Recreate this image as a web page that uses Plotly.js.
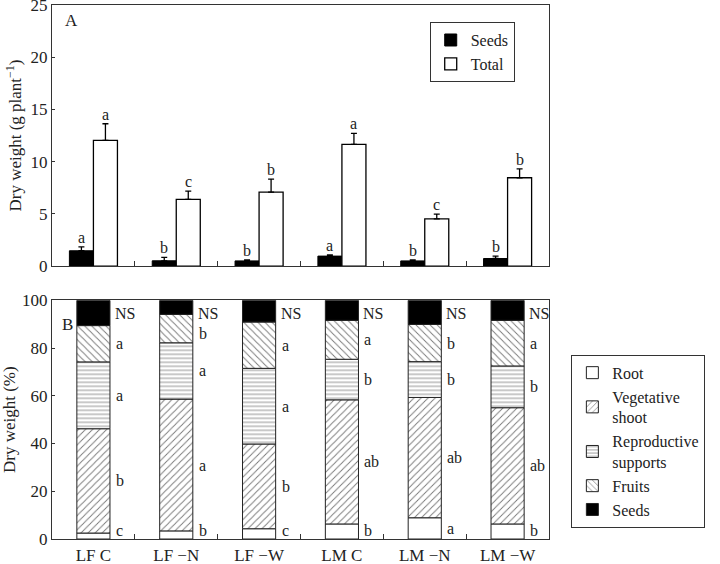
<!DOCTYPE html>
<html>
<head>
<meta charset="utf-8">
<script src="https://cdn.plot.ly/plotly-3.0.1.min.js"></script>
<style>html,body{margin:0;padding:0;background:#fff;}#chart{width:720px;height:564px;}</style>
</head>
<body>
<div id="chart"></div>
<script>
// ---------- data ----------
const categories = ['LF C', 'LF \u2212N', 'LF \u2212W', 'LM C', 'LM \u2212N', 'LM \u2212W'];

// Panel A: dry weight (g plant-1)
const seedsDW   = [1.47, 0.51, 0.50, 0.96, 0.50, 0.73];
const seedsErr  = [0.38, 0.32, 0.10, 0.12, 0.10, 0.23];
const totalDW   = [12.04, 6.39, 7.09, 11.65, 4.53, 8.46];
const totalErr  = [1.59, 0.79, 1.24, 1.06, 0.45, 0.86];
const seedsLetters = ['a', 'b', 'b', 'a', 'b', 'b'];
const totalLetters = ['a', 'c', 'b', 'a', 'c', 'b'];

// Panel B: dry weight (%)
const rootPct   = [2.5, 3.4, 4.3, 6.3, 8.9, 6.3];
const vegPct    = [43.7, 55.2, 35.5, 52.0, 50.4, 48.7];
const reproPct  = [28.0, 23.6, 31.7, 17.0, 15.0, 17.5];
const fruitsPct = [15.2, 11.9, 19.4, 16.3, 15.6, 19.1];
const seedsPct  = [10.6, 5.9, 9.1, 8.4, 10.1, 8.4];
const rootLetters   = ['c', 'b', 'c', 'b', 'a', 'b'];
const vegLetters    = ['b', 'a', 'b', 'ab', 'ab', 'ab'];
const reproLetters  = ['a', 'a', 'a', 'b', 'b', 'b'];
const fruitsLetters = ['a', 'b', 'a', 'a', 'b', 'a'];
const seedsPctLetters = ['NS', 'NS', 'NS', 'NS', 'NS', 'NS'];
const componentNames = ['Root', 'Vegetative<br>shoot', 'Reproductive<br>supports', 'Fruits', 'Seeds'];

// ---------- build ----------
const FONT = 'Liberation Serif, Times New Roman, serif';
const TXT = '#222';
const LINE = '#333';
const BW = 0.29;   // bar width panel A
const BW2 = 0.4;   // bar width panel B

const traces = [];
traces.push({
  type: 'bar', name: 'Seeds', x: categories, y: seedsDW, xaxis: 'x', yaxis: 'y',
  offset: -BW, width: BW, legend: 'legend',
  marker: {color: '#000', line: {color: '#000', width: 1}},
  error_y: {type: 'data', symmetric: false, array: seedsErr, arrayminus: seedsErr.map(() => 0),
            color: '#000', thickness: 1.3, width: 3}
});
traces.push({
  type: 'bar', name: 'Total', x: categories, y: totalDW, xaxis: 'x', yaxis: 'y',
  offset: 0, width: BW, legend: 'legend',
  marker: {color: '#fff', line: {color: '#000', width: 1.3}},
  error_y: {type: 'data', symmetric: false, array: totalErr, arrayminus: totalErr.map(() => 0),
            color: '#000', thickness: 1.3, width: 3}
});

const comps = [rootPct, vegPct, reproPct, fruitsPct, seedsPct];
const compStyles = [
  {color: '#fff', pattern: null},
  {color: '#fff', pattern: {shape: '/', fgcolor: '#777', bgcolor: '#fff', size: 5, solidity: 0.18}},
  {color: '#fff', pattern: {shape: '-', fgcolor: '#777', bgcolor: '#fff', size: 4, solidity: 0.2}},
  {color: '#fff', pattern: {shape: '\\', fgcolor: '#777', bgcolor: '#fff', size: 5, solidity: 0.18}},
  {color: '#000', pattern: null}
];
const cum = categories.map(() => 0);
const bases = [];
comps.forEach((vals, k) => {
  const base = cum.slice();
  bases.push(base);
  const marker = {color: compStyles[k].color, line: {color: '#222', width: 1}};
  if (compStyles[k].pattern) marker.pattern = compStyles[k].pattern;
  traces.push({
    type: 'bar', name: componentNames[k], x: categories, y: vals, base: base,
    xaxis: 'x2', yaxis: 'y2', offset: -BW2 / 2, width: BW2,
    legend: 'legend2', legendgroup: 'g' + k, marker: marker
  });
  vals.forEach((v, i) => { cum[i] += v; });
});

// ---------- annotations ----------
const ann = [];
const annFont = {family: FONT, size: 16, color: TXT};
categories.forEach((c, i) => {
  ann.push({xref: 'x', yref: 'y', x: i - BW / 2, y: seedsDW[i] + seedsErr[i], text: seedsLetters[i],
            showarrow: false, yanchor: 'bottom', yshift: -1, font: annFont});
  ann.push({xref: 'x', yref: 'y', x: i + BW / 2, y: totalDW[i] + totalErr[i], text: totalLetters[i],
            showarrow: false, yanchor: 'bottom', yshift: -1, font: annFont});
});
const letterSets = [rootLetters, vegLetters, reproLetters, fruitsLetters];
const labelMin = [3.4, 0, 0, 0];
const labelMax = [100, 100, 100, 86];
categories.forEach((c, i) => {
  letterSets.forEach((L, k) => {
    const mid = bases[k][i] + comps[k][i] / 2;
    ann.push({xref: 'x2', yref: 'y2', x: i + BW2 / 2,
              y: Math.min(Math.max(mid, labelMin[k]), labelMax[k]), text: L[i],
              showarrow: false, xanchor: 'left', xshift: 4, font: annFont});
  });
  ann.push({xref: 'x2', yref: 'y2', x: i + BW2 / 2, y: 94.5, text: seedsPctLetters[i],
            showarrow: false, xanchor: 'left', xshift: 3, font: annFont});
});
ann.push({xref: 'x domain', yref: 'y domain', x: 0.022, y: 0.94, text: 'A', showarrow: false,
          xanchor: 'left', yanchor: 'middle', font: {family: FONT, size: 17, color: TXT}});
ann.push({xref: 'x2 domain', yref: 'y2 domain', x: 0.016, y: 0.9, text: 'B', showarrow: false,
          xanchor: 'left', yanchor: 'middle', font: {family: FONT, size: 17, color: TXT}});

const axisCommon = {
  showline: true, mirror: true, linecolor: LINE, linewidth: 1.2, showgrid: false, zeroline: false,
  tickfont: {family: FONT, size: 17, color: TXT}, tickcolor: LINE, ticklabeloverflow: 'allow'
};

const layout = {
  width: 720, height: 564,
  margin: {l: 52, r: 171, t: 5, b: 25},
  paper_bgcolor: '#fff', plot_bgcolor: '#fff',
  font: {family: FONT, size: 16, color: TXT},
  barmode: 'group',
  showlegend: true,
  xaxis: Object.assign({}, axisCommon, {
    domain: [0, 1], anchor: 'y', type: 'category', range: [-0.5, 5.5],
    showticklabels: false, ticks: 'inside', tickson: 'boundaries', ticklen: 5
  }),
  yaxis: Object.assign({}, axisCommon, {
    domain: [0.511, 1], anchor: 'x', range: [0, 25], dtick: 5, ticks: 'inside', ticklen: 3,
    title: {text: 'Dry weight (g plant<sup>\u22121</sup>)', font: {family: FONT, size: 17, color: TXT}, standoff: 4}
  }),
  xaxis2: Object.assign({}, axisCommon, {
    domain: [0, 1], anchor: 'y2', type: 'category', range: [-0.5, 5.5],
    ticks: 'inside', tickson: 'boundaries', ticklen: 5
  }),
  yaxis2: Object.assign({}, axisCommon, {
    domain: [0, 0.447], anchor: 'x2', range: [0, 100], dtick: 20, ticks: 'inside', ticklen: 3,
    title: {text: 'Dry weight (%)', font: {family: FONT, size: 17, color: TXT}, standoff: 4}
  }),
  legend: {
    x: 0.76, y: 0.968, xanchor: 'left', yanchor: 'top', traceorder: 'normal',
    bordercolor: LINE, borderwidth: 1, bgcolor: '#fff',
    font: {family: FONT, size: 16, color: TXT}
  },
  legend2: {
    x: 1.045, y: 0.345, xanchor: 'left', yanchor: 'top', traceorder: 'normal',
    bordercolor: LINE, borderwidth: 1, bgcolor: '#fff', tracegroupgap: 9,
    font: {family: FONT, size: 16, color: TXT}
  },
  annotations: ann
};

Plotly.newPlot('chart', traces, layout, {displayModeBar: false, staticPlot: true});
</script>
</body>
</html>
